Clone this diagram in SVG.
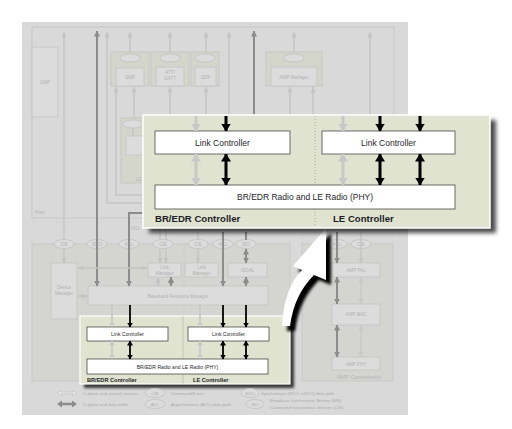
<svg xmlns="http://www.w3.org/2000/svg" width="512" height="429" viewBox="0 0 512 429">
<defs>
<style>
.t{font-family:"Liberation Sans",Arial,Helvetica,sans-serif}
.f{fill:#b2b2b2;font-size:4.6px}
.fm{text-anchor:middle}
.gbox{fill:#dcdcdc;stroke:#c4c4c4;stroke-width:0.8}
.cont{fill:#d4d5cb;stroke:#c2c2bd;stroke-width:0.8}
.el{fill:#dcdcdc;stroke:#c2c2c2;stroke-width:0.8}
.la{stroke:#c4c4c4;stroke-width:1.4;fill:none}
.da{stroke:#8c8c8c;stroke-width:2;fill:none}
.wb{fill:#fff;stroke:#4a4a4a;stroke-width:0.8}
.ol{stroke:#c8c8c8;stroke-width:3;fill:none}
.bl{stroke:#000;stroke-width:3;fill:none}
.sl{stroke:#c8c8c8;stroke-width:1.8;fill:none}
.sb{stroke:#000;stroke-width:1.8;fill:none}
.lt{fill:#1e1e2a;font-size:8.5px}
.hd{fill:#1e1e2a;font-size:9.6px;font-weight:bold}
.st{fill:#1e1e2a;font-size:5.1px}
.sh{fill:#1e1e2a;font-size:5.6px;font-weight:bold}
.lg{fill:#a9a9a9;font-size:4.4px}
</style>
<marker id="mL" markerUnits="userSpaceOnUse" markerWidth="6" markerHeight="5" refX="5.5" refY="2.5" orient="auto-start-reverse"><path d="M0,0 L6,2.5 L0,5 z" fill="#c4c4c4"/></marker>
<marker id="mD" markerUnits="userSpaceOnUse" markerWidth="6" markerHeight="6" refX="5.5" refY="3" orient="auto-start-reverse"><path d="M0,0 L6,3 L0,6 z" fill="#8c8c8c"/></marker>
<marker id="mO" markerUnits="userSpaceOnUse" markerWidth="8" markerHeight="10" refX="7.5" refY="5" orient="auto-start-reverse"><path d="M0,0 L8,5 L0,10 z" fill="#c8c8c8"/></marker>
<marker id="mB" markerUnits="userSpaceOnUse" markerWidth="8" markerHeight="10" refX="7.5" refY="5" orient="auto-start-reverse"><path d="M0,0 L8,5 L0,10 z" fill="#000"/></marker>
<marker id="mSL" markerUnits="userSpaceOnUse" markerWidth="5" markerHeight="6" refX="4.5" refY="3" orient="auto-start-reverse"><path d="M0,0 L5,3 L0,6 z" fill="#c8c8c8"/></marker>
<marker id="mSB" markerUnits="userSpaceOnUse" markerWidth="5" markerHeight="6" refX="4.5" refY="3" orient="auto-start-reverse"><path d="M0,0 L5,3 L0,6 z" fill="#000"/></marker>
<filter id="blur" x="-10%" y="-10%" width="120%" height="130%"><feGaussianBlur stdDeviation="2"/></filter>
<filter id="blur2" x="-30%" y="-30%" width="160%" height="160%"><feGaussianBlur stdDeviation="1.6"/></filter>
</defs>

<rect width="512" height="429" fill="#fff"/>
<rect id="panel" x="22" y="22" width="386" height="393" fill="#d9d9d9"/>

<g id="host">
<rect x="32" y="27" width="362" height="191" fill="none" stroke="#c2c2c2" stroke-width="0.8"/>
<text class="t f" x="35" y="214">Host</text>
</g>

<g id="gap"><rect class="gbox" x="32" y="47" width="26" height="70"/><text class="t f fm" x="45" y="84">GAP</text></g>
<g id="smp"><rect class="cont" x="111" y="52" width="38" height="34"/><ellipse class="el" cx="130" cy="58" rx="10" ry="4"/><rect class="gbox" x="116" y="68" width="28" height="18"/><text class="t f fm" x="130" y="79">SMP</text></g>
<g id="att"><rect class="cont" x="151" y="52" width="38" height="34"/><ellipse class="el" cx="170" cy="58" rx="10" ry="4"/><rect class="gbox" x="156" y="67" width="28" height="19"/><text class="t f fm" x="170" y="74">ATT/</text><text class="t f fm" x="170" y="80">GATT</text></g>
<g id="sdp"><rect class="cont" x="191" y="52" width="28" height="34"/><ellipse class="el" cx="205" cy="58" rx="10" ry="4"/><rect class="gbox" x="195" y="67" width="21" height="19"/><text class="t f fm" x="205.5" y="79">SDP</text></g>
<g id="amp-manager"><rect class="cont" x="266" y="52" width="56" height="34"/><ellipse class="el" cx="294" cy="58" rx="10" ry="4"/><rect class="gbox" x="271" y="67" width="46" height="19"/><text class="t f fm" x="294" y="79">AMP Manager</text></g>
<g id="l2cap"><rect class="cont" x="121" y="118" width="40" height="65"/><ellipse class="el" cx="133" cy="124" rx="10" ry="4"/><rect class="gbox" x="126" y="136" width="20" height="19"/><text class="t f" x="136" y="181">L2</text></g>

<g id="hci-region">
<rect x="32" y="222" width="258" height="22" fill="none" stroke="#cdcdcd" stroke-width="0.6" stroke-dasharray="2 2"/>
<rect x="302" y="222" width="91" height="22" fill="none" stroke="#cdcdcd" stroke-width="0.6" stroke-dasharray="2 2"/>
<text class="t f" x="131" y="230">HCI</text>
<text class="t f" x="333" y="230">HCI</text>
</g>

<g id="controller-region">
<rect x="32" y="244" width="258" height="137" fill="#d4d4d1" stroke="#c6c6c6" stroke-width="0.8"/>
<line x1="184" y1="244" x2="184" y2="316" stroke="#c6c6c6" stroke-width="0.6"/>
</g>
<g id="amp-controllers">
<rect x="302" y="244" width="91" height="137" fill="#d4d4d1" stroke="#c6c6c6" stroke-width="0.8"/>
<text class="t fm" x="359" y="379" fill="#b5b5b5" font-size="5.6px">AMP Controller(s)</text>
</g>

<g id="device-manager"><rect class="gbox" x="51" y="263" width="26" height="56"/><text class="t f fm" x="64" y="289">Device</text><text class="t f fm" x="64" y="295">Manager</text></g>
<g id="link-manager-br"><rect class="gbox" x="148" y="263" width="33" height="14"/><text class="t f fm" x="164.5" y="269">Link</text><text class="t f fm" x="164.5" y="275">Manager</text></g>
<g id="link-manager-le"><rect class="gbox" x="185" y="263" width="33" height="14"/><text class="t f fm" x="201.5" y="269">Link</text><text class="t f fm" x="201.5" y="275">Manager</text></g>
<g id="isoal"><rect class="gbox" x="228" y="263" width="39" height="14"/><text class="t f fm" x="247.5" y="272">ISOAL</text></g>
<g id="baseband"><rect class="gbox" x="88" y="286" width="180" height="19"/><text class="t f fm" x="178" y="297.5">Baseband Resource Manager</text></g>
<g id="amp-pal"><rect class="gbox" x="332" y="263" width="48" height="14"/><text class="t f fm" x="356" y="272">AMP PAL</text></g>
<g id="amp-mac"><rect class="gbox" x="332" y="304" width="48" height="21"/><text class="t f fm" x="356" y="316">AMP MAC</text></g>
<g id="amp-phy"><rect class="gbox" x="332" y="357" width="48" height="13"/><text class="t f fm" x="356" y="365.5">AMP PHY</text></g>

<g id="hci-channels">
<ellipse class="el" cx="64" cy="244" rx="10" ry="4.5"/><text class="t f fm" x="64" y="245.6">C/E</text>
<ellipse class="el" cx="97" cy="244" rx="10" ry="4.5"/><text class="t f fm" x="97" y="245.6">SCO</text>
<ellipse class="el" cx="129" cy="244" rx="10" ry="4.5"/><text class="t f fm" x="129" y="245.6">ACL</text>
<ellipse class="el" cx="163" cy="244" rx="10" ry="4.5"/><text class="t f fm" x="163" y="245.6">C/E</text>
<ellipse class="el" cx="198" cy="244" rx="10" ry="4.5"/><text class="t f fm" x="198" y="245.6">C/E</text>
<ellipse class="el" cx="223" cy="244" rx="10" ry="4.5"/><text class="t f fm" x="223" y="245.6">ACL</text>
<ellipse class="el" cx="246" cy="244" rx="10" ry="4.5"/><text class="t f fm" x="246" y="245.6">ISO</text>
<ellipse class="el" cx="337" cy="244" rx="10" ry="4.5"/><text class="t f fm" x="337" y="245.6">ACL</text>
<ellipse class="el" cx="361" cy="244" rx="10" ry="4.5"/><text class="t f fm" x="361" y="245.6">C/E</text>
</g>

<g id="connectors">
<!-- host level -->
<line class="la" x1="64" y1="239" x2="64" y2="32" marker-end="url(#mL)"/>
<line class="da" x1="97" y1="286" x2="97" y2="31" marker-start="url(#mD)" marker-end="url(#mD)"/>
<polyline class="la" points="143,203 107,203 107,32" marker-end="url(#mL)"/>
<polyline class="la" points="143,195 116,195 116,87" marker-end="url(#mL)"/>
<line class="la" x1="134" y1="118" x2="134" y2="87" marker-end="url(#mL)"/>
<line class="la" x1="133" y1="128" x2="133" y2="136"/>
<line class="la" x1="130" y1="52" x2="130" y2="32" marker-end="url(#mL)"/>
<line class="la" x1="170" y1="52" x2="170" y2="32" marker-end="url(#mL)"/>
<line class="la" x1="206" y1="52" x2="206" y2="32" marker-end="url(#mL)"/>
<line class="la" x1="170" y1="115" x2="170" y2="87" marker-end="url(#mL)"/>
<line class="la" x1="206" y1="115" x2="206" y2="87" marker-end="url(#mL)"/>
<line class="la" x1="229" y1="115" x2="229" y2="32" marker-end="url(#mL)"/>
<line class="da" x1="254" y1="115" x2="254" y2="31" marker-end="url(#mD)"/>
<line class="la" x1="294" y1="52" x2="294" y2="32" marker-end="url(#mL)"/>
<line class="la" x1="290" y1="115" x2="290" y2="87" marker-end="url(#mL)"/>
<line class="la" x1="313" y1="115" x2="313" y2="87" marker-end="url(#mL)"/>
<line class="la" x1="370" y1="115" x2="370" y2="32" marker-end="url(#mL)"/>
<polyline class="da" points="143,213 129,213 129,286" marker-end="url(#mD)"/>
<!-- below overlay into HCI -->
<line class="la" x1="160" y1="228" x2="160" y2="240"/>
<line class="la" x1="166" y1="228" x2="166" y2="240"/>
<line class="la" x1="198" y1="232" x2="198" y2="240"/>
<line class="da" x1="223" y1="232" x2="223" y2="286" marker-end="url(#mD)"/>
<line class="da" x1="246" y1="232" x2="246" y2="240"/>
<line class="da" x1="337" y1="232" x2="337" y2="263" marker-end="url(#mD)"/>
<line class="la" x1="361" y1="232" x2="361" y2="263" marker-end="url(#mL)"/>
<!-- controller level -->
<line class="la" x1="64" y1="249" x2="64" y2="263" marker-end="url(#mL)"/>
<line class="la" x1="160" y1="249" x2="160" y2="263" marker-end="url(#mL)"/>
<line class="la" x1="166" y1="249" x2="166" y2="263" marker-end="url(#mL)"/>
<line class="la" x1="198" y1="249" x2="198" y2="263" marker-end="url(#mL)"/>
<line class="da" x1="246" y1="249" x2="246" y2="263" marker-start="url(#mD)" marker-end="url(#mD)"/>
<line class="da" x1="246" y1="277" x2="246" y2="286" marker-start="url(#mD)" marker-end="url(#mD)"/>
<line class="la" x1="158" y1="277" x2="158" y2="286" marker-start="url(#mL)" marker-end="url(#mL)"/>
<line class="da" x1="171" y1="277" x2="171" y2="286" marker-start="url(#mD)" marker-end="url(#mD)"/>
<line class="la" x1="78" y1="268" x2="147" y2="268" marker-start="url(#mL)" marker-end="url(#mL)"/>
<line class="la" x1="78" y1="296" x2="88" y2="296" marker-start="url(#mL)" marker-end="url(#mL)"/>
<!-- AMP -->
<line class="da" x1="337" y1="277" x2="337" y2="304" marker-start="url(#mD)" marker-end="url(#mD)"/>
<line class="da" x1="337" y1="325" x2="337" y2="357" marker-start="url(#mD)" marker-end="url(#mD)"/>
<line class="la" x1="361" y1="277" x2="361" y2="304" marker-start="url(#mL)" marker-end="url(#mL)" opacity=".7"/>
<line class="la" x1="361" y1="325" x2="361" y2="357" marker-start="url(#mL)" marker-end="url(#mL)" opacity=".7"/>
</g>

<g id="small-controller">
<rect x="84" y="320" width="210" height="68" fill="#000" opacity=".75" filter="url(#blur2)"/>
<rect x="80" y="316" width="210" height="68" fill="#e0e3cf" stroke="#fff" stroke-width="1.2"/>
<line x1="183" y1="316" x2="183" y2="384" stroke="#9a9a9a" stroke-width="0.4"/>
<g id="small-lc-br"><rect class="wb" x="87" y="327" width="81" height="14"/><text class="t st fm" x="127.5" y="336">Link Controller</text></g>
<g id="small-lc-le"><rect class="wb" x="188" y="327" width="81" height="14"/><text class="t st fm" x="228.5" y="336">Link Controller</text></g>
<g id="small-radio"><rect class="wb" x="87" y="359" width="181" height="15"/><text class="t st fm" x="177.5" y="368.5">BR/EDR Radio and LE Radio (PHY)</text></g>
<text class="t sh" x="87" y="382">BR/EDR Controller</text>
<text class="t sh" x="193" y="382">LE Controller</text>
</g>
<g id="small-connectors">
<line class="sl" x1="112" y1="305" x2="112" y2="327" marker-end="url(#mSL)"/>
<line class="sb" x1="130" y1="305" x2="130" y2="327" marker-end="url(#mSB)"/>
<line class="sl" x1="200" y1="305" x2="200" y2="327" marker-end="url(#mSL)"/>
<line class="sb" x1="223" y1="305" x2="223" y2="327" marker-end="url(#mSB)"/>
<line class="sb" x1="246" y1="305" x2="246" y2="327" marker-end="url(#mSB)"/>
<line class="sl" x1="112" y1="341" x2="112" y2="359" marker-start="url(#mSL)" marker-end="url(#mSL)"/>
<line class="sb" x1="130" y1="341" x2="130" y2="359" marker-start="url(#mSB)" marker-end="url(#mSB)"/>
<line class="sl" x1="200" y1="341" x2="200" y2="359" marker-start="url(#mSL)" marker-end="url(#mSL)"/>
<line class="sb" x1="223" y1="341" x2="223" y2="359" marker-start="url(#mSB)" marker-end="url(#mSB)"/>
<line class="sb" x1="246" y1="341" x2="246" y2="359" marker-start="url(#mSB)" marker-end="url(#mSB)"/>
</g>

<g id="legend">
<path d="M57,393 L61,390 L61,392 L73,392 L73,390 L77,393 L73,396 L73,394 L61,394 L61,396 Z" fill="#e2e2e2" stroke="#b8b8b8" stroke-width="0.5"/>
<text class="t lg" x="83" y="394.5">C-plane and control services</text>
<ellipse class="el" cx="155" cy="393" rx="10" ry="4.5"/><text class="t lg fm" x="155" y="394.5">C/E</text>
<text class="t lg" x="171" y="394.5">Command/Event</text>
<ellipse class="el" cx="250" cy="393" rx="9" ry="4.5"/><text class="t lg fm" x="250" y="394.5">SCO</text>
<text class="t lg" x="261" y="394.5">Synchronous (SCO, eSCO) data path</text>
<path d="M57,404 L62,400.5 L62,402.8 L72,402.8 L72,400.5 L77,404 L72,407.5 L72,405.2 L62,405.2 L62,407.5 Z" fill="#8c8c8c"/>
<text class="t lg" x="83" y="405.5">U-plane and data traffic</text>
<ellipse class="el" cx="155" cy="404" rx="10" ry="4.5"/><text class="t lg fm" x="155" y="405.5">ACL</text>
<text class="t lg" x="171" y="405.5">Asynchronous (ACL) data path</text>
<ellipse class="el" cx="255" cy="404" rx="9" ry="4.5"/><text class="t lg fm" x="255" y="405.5">ISO</text>
<text class="t lg" x="270" y="401.5">Broadcast Isochronous Stream (BIS)</text>
<text class="t lg" x="270" y="409">Connected Isochronous Stream (CIS)</text>
</g>

<g id="zoom-arrow">
<path d="M331,233 L331,285 L319,280 Q299,300 295,331 L287,331 Q289,293 307,275 L298,271 Z" fill="#000" filter="url(#blur2)"/>
<path d="M326,228 L326,280 L314,275 Q294,295 290,326 L282,326 Q284,288 302,270 L293,266 Z" fill="#fff"/>
</g>

<g id="zoom-callout">
<rect x="149" y="120" width="347" height="113" fill="#000" opacity=".7" filter="url(#blur)"/>
<rect x="143" y="115" width="347" height="113" fill="#e0e3cf" stroke="#fff" stroke-width="1.5"/>
<line x1="315" y1="116" x2="315" y2="227" stroke="#8a8a8a" stroke-width="0.6" stroke-dasharray="1 2"/>
<g id="lc-br"><rect class="wb" x="155" y="131" width="135" height="23"/><text class="t lt fm" x="222.5" y="145.5">Link Controller</text></g>
<g id="lc-le"><rect class="wb" x="322" y="131" width="133" height="23"/><text class="t lt fm" x="388.5" y="145.5">Link Controller</text></g>
<g id="radio"><rect class="wb" x="155" y="185" width="300" height="24"/><text class="t lt fm" x="305" y="200" font-size="8.7px">BR/EDR Radio and LE Radio (PHY)</text></g>
<text class="t hd" x="155" y="222">BR/EDR Controller</text>
<text class="t hd" x="333" y="222">LE Controller</text>
</g>
<g id="callout-connectors">
<line class="ol" x1="196" y1="116" x2="196" y2="131" marker-end="url(#mO)"/>
<line class="bl" x1="226" y1="116" x2="226" y2="131" marker-end="url(#mB)"/>
<line class="ol" x1="343" y1="116" x2="343" y2="131" marker-end="url(#mO)"/>
<line class="bl" x1="380" y1="116" x2="380" y2="131" marker-end="url(#mB)"/>
<line class="bl" x1="420" y1="116" x2="420" y2="131" marker-end="url(#mB)"/>
<line class="ol" x1="196" y1="154" x2="196" y2="185" marker-start="url(#mO)" marker-end="url(#mO)"/>
<line class="bl" x1="226" y1="154" x2="226" y2="185" marker-start="url(#mB)" marker-end="url(#mB)"/>
<line class="ol" x1="343" y1="154" x2="343" y2="185" marker-start="url(#mO)" marker-end="url(#mO)"/>
<line class="bl" x1="380" y1="154" x2="380" y2="185" marker-start="url(#mB)" marker-end="url(#mB)"/>
<line class="bl" x1="420" y1="154" x2="420" y2="185" marker-start="url(#mB)" marker-end="url(#mB)"/>
</g>
</svg>
